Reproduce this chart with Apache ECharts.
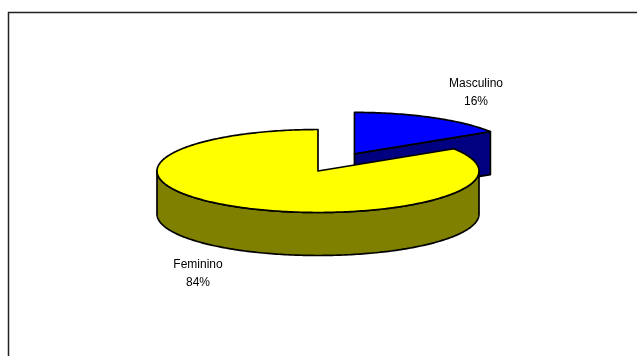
<!DOCTYPE html>
<html>
<head>
<meta charset="utf-8">
<script src="https://cdn.jsdelivr.net/npm/echarts@6/dist/echarts.min.js"></script>
<style>
  html, body { margin: 0; padding: 0; background: #fff; }
  #chart { width: 637px; height: 356px; }
</style>
</head>
<body>
<div id="chart"></div>
<script>
// Gender split (percent)
const categories = ['Masculino', 'Feminino'];
const shares = [16, 84];

// Styling of the 3-D pie
const topColors = ['#0000FF', '#FFFF00'];
const sideColors = ['#000080', '#808000'];
const explode = [0.47, 0];                 // fraction of radius each slice is pulled out
const labelAt = [[476, 93], [198, 274]];   // label centres
const pie = { cx: 318, cy: 171, rx: 161, ry: 41.5, depth: 43 };

const total = shares.reduce((a, b) => a + b, 0);
const starts = [];
let acc = 0;
shares.forEach(v => { starts.push(acc / total * 360); acc += v; });

const RAD = Math.PI / 180;
// angle measured clockwise from 12 o'clock
function pt(deg, ox, oy, dy) {
  return [pie.cx + ox + pie.rx * Math.sin(deg * RAD),
          pie.cy + oy - pie.ry * Math.cos(deg * RAD) + dy];
}
function arc(a0, a1, ox, oy, dy) {
  const n = Math.max(2, Math.ceil(Math.abs(a1 - a0)));
  const out = [];
  for (let i = 0; i <= n; i++) out.push(pt(a0 + (a1 - a0) * i / n, ox, oy, dy));
  return out;
}

function renderItem(params, api) {
  const i = params.dataIndex;
  const v = api.value(1);
  const a0 = starts[i];
  const a1 = a0 + v / total * 360;
  const mid = (a0 + a1) / 2 * RAD;
  const ox = explode[i] * pie.rx * Math.sin(mid);
  const oy = -explode[i] * pie.ry * Math.cos(mid);
  const c = [pie.cx + ox, pie.cy + oy];
  const d = pie.depth;
  const base = i * 10;
  const edge = { stroke: '#000', lineWidth: 1.7, lineJoin: 'round' };
  const children = [];

  // cut faces that turn towards the viewer
  const face = (a, z) => {
    const p = pt(a, ox, oy, 0);
    children.push({
      type: 'polygon', z2: base + z,
      shape: { points: [c, p, [p[0], p[1] + d], [c[0], c[1] + d]] },
      style: Object.assign({ fill: sideColors[i] }, edge)
    });
  };
  if (Math.sin(a1 * RAD) > 1e-6) face(a1, 1);
  if (Math.sin(a0 * RAD) < -1e-6) face(a0, 1);

  // front rim wall
  const w0 = Math.max(a0, 90), w1 = Math.min(a1, 270);
  if (w1 > w0) {
    const pts = arc(w0, w1, ox, oy, 0).concat(arc(w1, w0, ox, oy, d));
    children.push({
      type: 'polygon', z2: base + 2,
      shape: { points: pts },
      style: Object.assign({ fill: sideColors[i] }, edge)
    });
  }

  // top face
  children.push({
    type: 'polygon', z2: base + 3,
    shape: { points: [c].concat(arc(a0, a1, ox, oy, 0)) },
    style: Object.assign({ fill: topColors[i] }, edge)
  });

  // label
  const pct = Math.round(v / total * 100);
  children.push({
    type: 'text', z2: 50,
    style: {
      text: categories[i] + '\n' + pct + '%',
      x: labelAt[i][0], y: labelAt[i][1],
      textAlign: 'center', textVerticalAlign: 'middle',
      font: '12px "Liberation Sans", Arial, sans-serif',
      lineHeight: 18, fill: '#000'
    }
  });

  return { type: 'group', children: children };
}

const chart = echarts.init(document.getElementById('chart'), null, { renderer: 'canvas' });
chart.setOption({
  animation: false,
  backgroundColor: '#fff',
  graphic: [{
    type: 'rect', silent: true,
    shape: { x: 8.5, y: 12.5, width: 700, height: 400 },
    style: { fill: 'none', stroke: '#222', lineWidth: 1.5 }
  }],
  series: [{
    type: 'custom',
    coordinateSystem: 'none',
    renderItem: renderItem,
    data: categories.map((n, i) => ({ name: n, value: [i, shares[i]] }))
  }]
});
</script>
</body>
</html>
